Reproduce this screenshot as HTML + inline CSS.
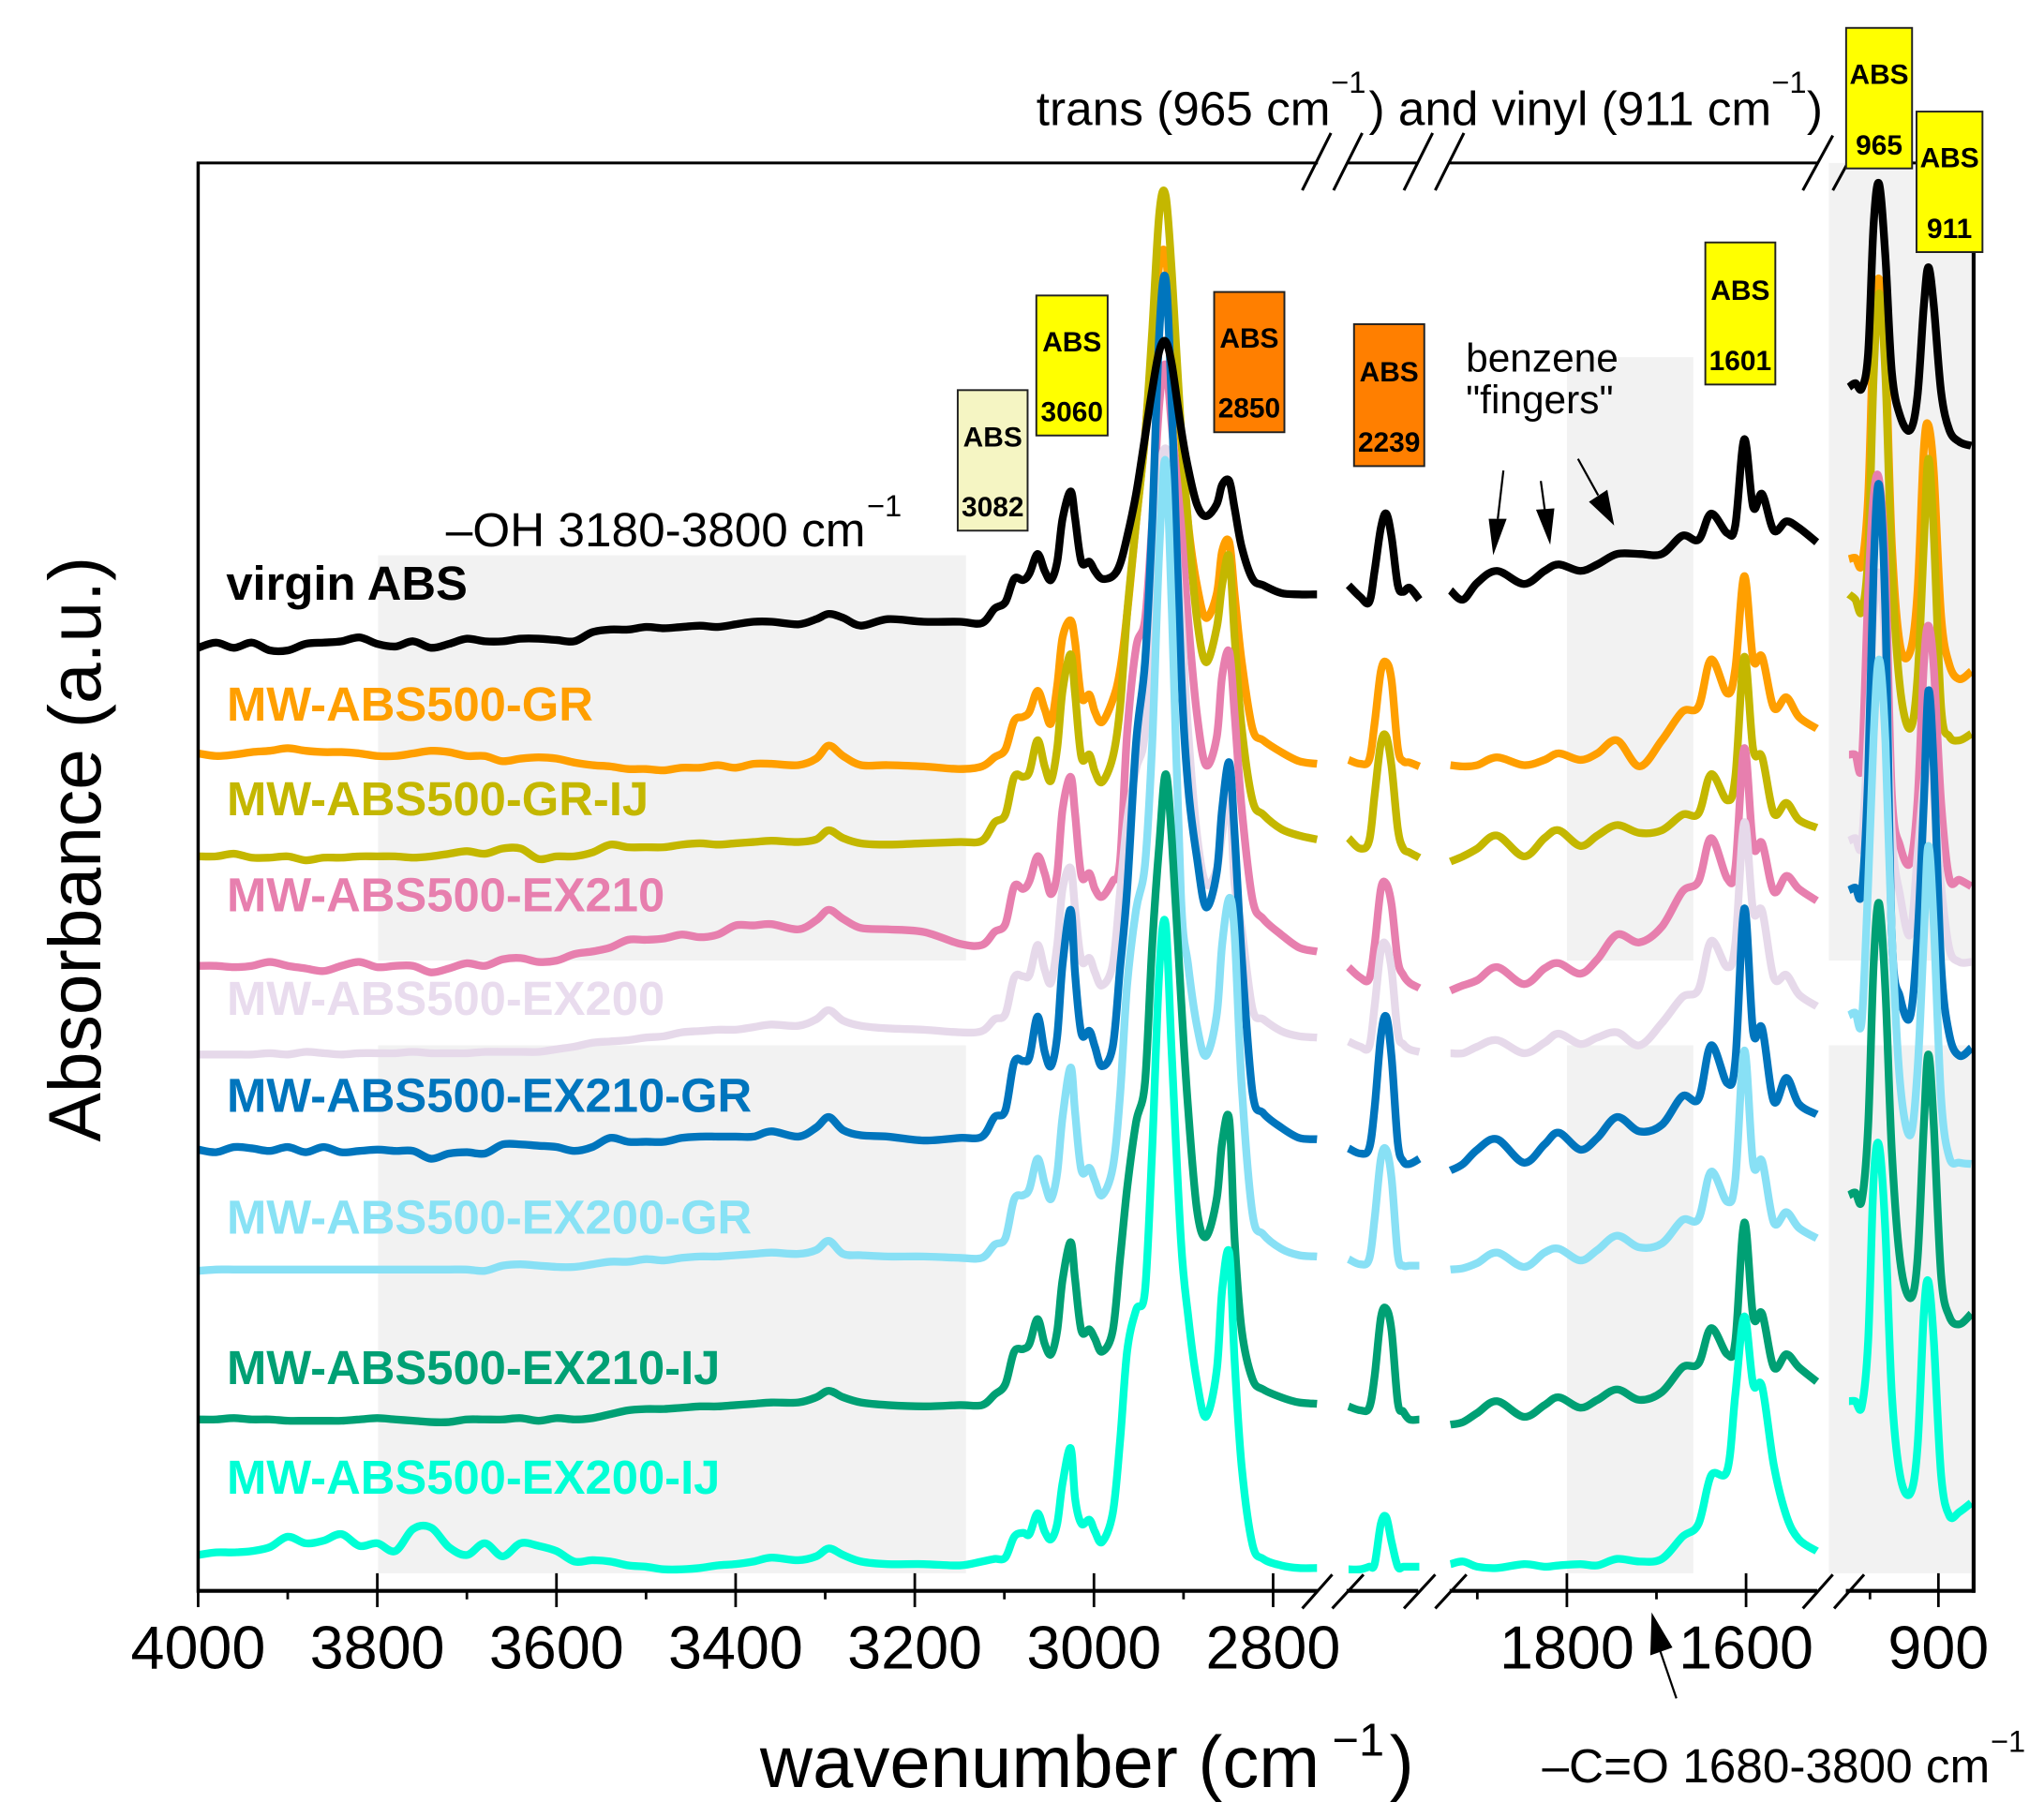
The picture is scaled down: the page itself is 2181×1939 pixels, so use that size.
<!DOCTYPE html>
<html lang="en">
<head>
<meta charset="utf-8">
<title>FTIR absorbance spectra of ABS samples</title>
<style>
html,body{margin:0;padding:0;background:#fff;}
svg{display:block;}
text{font-family:"Liberation Sans",Arial,sans-serif;fill:#000;}
.series-label{font-weight:700;font-size:36.5px;}
.box-text{font-weight:700;font-size:21.5px;text-anchor:middle;}
.note{font-size:36.9px;}
.sup{font-size:23.5px;}
</style>
</head>
<body>
<svg id="chart" xmlns="http://www.w3.org/2000/svg" width="2181" height="1939" viewBox="0 0 1568 1394">
  <rect x="0" y="0" width="1568" height="1394" fill="#ffffff"/>

  <g fill="#f2f2f2">
    <rect x="290" y="426" width="451" height="311"/>
    <rect x="290" y="802" width="451" height="405"/>
    <rect x="1202" y="274" width="97" height="463"/>
    <rect x="1202" y="802" width="97" height="405"/>
    <rect x="1403" y="125" width="109" height="612"/>
    <rect x="1403" y="802" width="109" height="405"/>
  </g>

  <g id="series-layer"></g>

  <g stroke="#000" fill="none">
    <line x1="152" y1="124" x2="152" y2="1222" stroke-width="2.5"/>
    <line x1="1514" y1="124" x2="1514" y2="1222" stroke-width="3"/>
    <path d="M151 125H1011M1033 125H1088M1112 125H1394M1416 125H1515" stroke-width="2.2"/>
    <path d="M151 1220.5H1011M1033 1220.5H1088M1112 1220.5H1394M1416 1220.5H1515" stroke-width="3"/>
    <path stroke-width="2.2" d="M999 146L1021 102M1023 146L1045 102M1077 146L1099 102M1101 146L1123 102M1383 146L1406 104M1406 146L1429 104"/>
    <path stroke-width="2.2" d="M999 1234L1022 1208M1022 1234L1046 1208M1077 1234L1101 1208M1101 1234L1125 1208M1383 1234L1406 1208M1407 1234L1430 1208"/>
  </g>
  <g id="tick-layer"></g>

  <text transform="translate(77 876) rotate(-90)" font-size="56.5">Absorbance (a.u.)</text>
  <g>
    <text x="583" y="1371" font-size="56">wavenumber (cm</text>
    <text x="1022" y="1347" font-size="35">&#8722;1</text>
    <text x="1066" y="1371" font-size="56">)</text>
  </g>

  <g>
    <text class="note" x="795" y="96">trans (965 cm</text>
    <text class="sup" x="1021" y="71">&#8722;1</text>
    <text class="note" x="1050" y="96">) and vinyl (911 cm</text>
    <text class="sup" x="1359" y="71">&#8722;1</text>
    <text font-size="36.9" x="1386" y="96">)</text>
  </g>
  <g>
    <text class="note" x="342" y="419">&#8211;OH 3180-3800 cm</text>
    <text class="sup" x="665" y="396">&#8722;1</text>
  </g>
  <g>
    <text class="note" x="1183" y="1367.5">&#8211;C=O 1680-3800 cm</text>
    <text class="sup" x="1527" y="1344">&#8722;1</text>
    <line x1="1286" y1="1303" x2="1272" y2="1262" stroke="#000" stroke-width="1.6"/>
    <polygon points="1267,1237 1283,1264 1266,1270"/>
  </g>
  <g>
    <text font-size="30.5" x="1124.5" y="285">benzene</text>
    <text font-size="30.5" x="1124.5" y="317">"fingers"</text>
    <line x1="1153.3" y1="361" x2="1149" y2="398" stroke="#000" stroke-width="1.6"/>
    <polygon points="1145.5,426 1142,398 1155.8,398"/>
    <line x1="1182" y1="369" x2="1185" y2="391" stroke="#000" stroke-width="1.6"/>
    <polygon points="1189.2,418 1178.3,391 1192.4,390"/>
    <line x1="1210.5" y1="352" x2="1226" y2="380" stroke="#000" stroke-width="1.6"/>
    <polygon points="1238.3,403.2 1218.9,385 1233,375.7"/>
  </g>

  <g>
    <text class="series-label" x="173.5" y="460" style="fill:#000000">virgin ABS</text>
    <text class="series-label" x="174" y="553" style="fill:#ff9f00">MW-ABS500-GR</text>
    <text class="series-label" x="174" y="625.5" style="fill:#c4b700">MW-ABS500-GR-IJ</text>
    <text class="series-label" x="174" y="699" style="fill:#e77fae">MW-ABS500-EX210</text>
    <text class="series-label" x="174" y="778.5" style="fill:#e9dcee">MW-ABS500-EX200</text>
    <text class="series-label" x="174" y="853" style="fill:#0075bd">MW-ABS500-EX210-GR</text>
    <text class="series-label" x="174" y="946.5" style="fill:#88e2f5">MW-ABS500-EX200-GR</text>
    <text class="series-label" x="174" y="1062" style="fill:#00a074">MW-ABS500-EX210-IJ</text>
    <text class="series-label" x="174" y="1146" style="fill:#00ffd5">MW-ABS500-EX200-IJ</text>
  </g>

  <g stroke="#222" stroke-width="1.4">
    <g><rect x="734.7" y="299.3" width="53.6" height="107.8" fill="#f5f5c3"/><text class="box-text" stroke="none" x="761.5" y="342.6">ABS</text><text class="box-text" stroke="none" x="761.5" y="396">3082</text></g>
    <g><rect x="795" y="226.7" width="54.7" height="107.4" fill="#ffff00"/><text class="box-text" stroke="none" x="822.3" y="269.5">ABS</text><text class="box-text" stroke="none" x="822.3" y="323">3060</text></g>
    <g><rect x="931.4" y="224" width="53.9" height="107.6" fill="#ff7f00"/><text class="box-text" stroke="none" x="958.3" y="266.8">ABS</text><text class="box-text" stroke="none" x="958.3" y="320.3">2850</text></g>
    <g><rect x="1038.7" y="248.7" width="53.9" height="108.9" fill="#ff7f00"/><text class="box-text" stroke="none" x="1065.6" y="292.5">ABS</text><text class="box-text" stroke="none" x="1065.6" y="346.5">2239</text></g>
    <g><rect x="1308.2" y="186" width="53.7" height="109" fill="#ffff00"/><text class="box-text" stroke="none" x="1335" y="230">ABS</text><text class="box-text" stroke="none" x="1335" y="284">1601</text></g>
    <g><rect x="1416.2" y="21.4" width="50.6" height="107.8" fill="#ffff00"/><text class="box-text" stroke="none" x="1441.5" y="64.5">ABS</text><text class="box-text" stroke="none" x="1441.5" y="118.5">965</text></g>
    <g><rect x="1470.2" y="85.6" width="50.6" height="107.8" fill="#ffff00"/><text class="box-text" stroke="none" x="1495.5" y="128.5">ABS</text><text class="box-text" stroke="none" x="1495.5" y="182.5">911</text></g>
  </g>
</svg>

<script>
// Shared wavenumber grid (cm-1). Breaks in the axis fall between the four blocks.
const wavenumbers = [
  4000,3980,3960,3940,3920,3900,3880,3860,3840,3820,3800,3780,3760,3740,3720,3700,3680,3660,3640,3620,3600,3580,3560,3540,3520,3500,3480,3460,3440,3420,3400,3380,3360,3330,3310,3296,3280,3260,3230,3190,3150,
  3125,3111,3099,3089,3079,3072,3063,3055,3048,3041,3035,3026,3021,3014,3005,2999,2991,2979,2971,2963,2953,2943,2935,2927,2920,2913,2903,2895,2885,2875,2863,2857,2849,2843,2835,2823,2811,2791,2771,2751,
  2281,2268,2258,2252,2245,2239,2233,2226,2220,2213,2202,
  1930,1916,1900,1878,1848,1825,1809,1785,1766,1744,1719,1694,1671,1653,1639,1621,1612,1602,1592,1582,1569,1555,1541,1521,
  998,991,984,977,971,965,958,951,942,931,923,916,911,905,897,888,877,864
];

// Absorbance (arbitrary units, stacked) for each sample, same order as wavenumbers.
const orangeGR = [
  642,640,641,643,644,646,644,643,643,642,640,640,642,644,643,640,640,636,638,639,638,635,633,632,630,630,629,631,631,633,631,634,634,633,638,648,640,633,633,632,630,
  632,639,645,667,670,674,690,676,665,694,731,744,727,685,687,674,666,683,705,749,819,885,955,1017,1024,966,885,819,771,746,764,797,804,764,712,661,652,643,636,634,
  637,634,637,665,705,712,698,646,636,635,632,
  633,632,633,639,633,637,642,637,642,652,632,652,674,678,714,688,707,778,714,716,677,685,670,661,
  791,792,787,839,967,1006,949,802,725,720,765,875,894,857,747,710,699,705
];
const oliveGRIJ = [
  563,563,565,562,562,563,560,562,562,563,563,563,562,563,565,567,565,569,569,561,563,563,566,572,570,570,570,572,573,572,573,574,575,574,576,583,577,573,572,573,574,
  575,589,595,624,624,628,652,632,621,646,690,718,687,639,641,628,620,639,676,749,819,885,966,1057,1070,1010,892,819,745,712,738,771,793,731,661,606,595,584,579,576,
  577,569,575,610,650,655,632,584,569,566,562,
  559,563,569,579,563,577,583,571,579,587,581,583,595,596,626,606,624,716,645,639,596,604,591,585,
  764,760,751,795,931,995,931,784,692,661,699,802,868,809,677,655,652,657
];
const pinkEX210 = [
  479,479,478,479,482,479,477,475,479,482,478,479,479,474,477,481,479,484,485,482,483,488,490,493,499,499,500,503,501,503,510,510,511,507,514,522,515,508,507,505,496,
  495,505,511,540,538,544,563,550,534,550,599,624,595,548,550,538,532,544,558,657,723,745,819,911,940,892,819,745,672,633,654,701,720,672,599,530,515,503,493,490,
  478,470,469,495,538,542,526,483,472,466,462,
  460,464,468,478,465,477,481,473,484,503,497,509,536,544,577,546,554,646,571,573,536,548,538,529,
  641,641,635,765,839,852,784,610,571,558,604,710,740,707,604,546,545,540
];
const lavenderEX200 = [
  411,411,411,411,412,411,413,412,411,412,412,412,413,412,412,412,413,413,413,413,415,417,420,421,422,424,425,428,429,430,430,432,434,433,438,445,437,433,431,430,428,
  429,438,442,470,471,472,495,476,466,495,538,554,522,483,485,474,464,480,534,590,630,660,782,855,876,850,750,660,580,542,553,580,610,542,507,446,438,429,425,424,
  421,417,417,448,491,495,476,427,419,415,413,
  412,412,417,422,412,420,427,419,424,428,418,435,455,461,498,478,496,589,521,521,470,472,457,448,
  575,577,573,660,750,780,720,580,533,503,563,620,645,610,540,492,482,482
];
const blueEX210GR = [
  338,336,340,339,337,340,336,340,336,337,338,337,337,331,335,336,335,342,342,341,340,337,340,347,344,344,344,347,348,348,348,348,352,348,355,363,353,349,348,345,347,
  348,363,368,405,406,409,440,413,402,425,480,522,472,427,429,417,402,417,476,537,650,712,819,966,1006,907,709,617,562,524,550,599,635,580,485,382,366,355,347,346,
  339,335,339,370,425,440,409,343,329,327,331,
  322,327,338,346,328,342,351,338,347,363,352,357,379,377,418,389,406,523,428,431,375,393,373,365,
  537,539,536,625,784,848,747,501,455,440,501,604,690,630,480,426,410,416
];
const skyEX200GR = [
  245,246,246,246,246,246,246,246,246,246,246,246,246,246,246,246,245,249,250,249,248,248,250,252,252,254,253,255,256,256,257,258,259,258,261,268,258,257,256,256,255,
  255,265,270,300,303,308,331,312,300,320,363,401,366,322,324,314,303,324,378,464,522,557,650,800,866,750,534,480,433,410,441,495,531,503,386,289,273,262,257,256,
  254,250,254,285,331,338,316,257,249,249,249,
  246,247,251,259,248,259,262,253,261,272,263,266,284,285,321,298,315,414,327,329,282,290,278,270,
  441,443,437,542,655,714,650,501,389,349,398,501,571,509,377,332,328,327
];
const greenEX210IJ = [
  131,131,132,131,131,130,130,130,130,131,132,131,130,129,129,131,131,131,132,130,132,131,132,135,138,139,139,140,141,141,142,143,144,144,148,153,148,144,142,141,142,
  142,150,158,183,185,189,208,189,181,199,238,267,238,199,200,193,183,199,253,308,359,390,495,573,626,575,456,370,292,271,300,343,361,269,199,162,154,148,144,143,
  141,138,140,164,209,216,199,144,137,131,131,
  127,129,136,145,133,142,148,140,146,154,146,152,171,174,201,181,191,282,210,212,171,181,171,160,
  303,305,299,356,480,527,459,336,253,224,253,356,411,356,241,210,204,212
];
const turquoiseEX200IJ = [
  27,29,29,30,33,41,36,38,43,34,36,30,47,48,33,27,36,26,36,34,30,22,23,22,19,18,16,16,17,19,20,22,25,23,26,32,27,22,20,20,19,
  22,24,25,41,44,43,59,45,39,51,82,109,70,51,54,45,37,59,113,183,215,230,339,476,511,409,269,211,160,133,168,230,259,176,94,35,24,19,17,17,
  16,16,18,20,51,56,37,18,18,18,18,
  20,22,18,17,20,18,19,20,19,24,22,24,41,51,88,92,150,210,158,156,96,57,39,30,
  145,145,141,191,315,341,274,150,88,74,109,212,237,191,88,57,60,67
];
const blackVirgin = [
  723,727,723,727,721,721,726,727,728,731,726,724,728,723,726,730,728,728,730,730,729,728,735,737,737,739,738,739,740,739,741,743,743,741,745,749,746,740,745,743,743,
  742,753,758,776,775,780,795,782,775,789,822,843,822,789,789,782,776,778,787,808,841,885,921,951,958,940,892,861,833,824,833,848,851,830,800,776,771,765,764,764,
  771,762,758,782,815,826,808,771,766,769,760,
  767,760,773,782,772,782,787,782,787,795,795,795,809,806,826,811,817,883,831,841,813,820,815,804,
  923,926,922,949,1048,1079,1022,934,901,890,916,985,1015,985,919,890,881,878
];

// X-axis tick values and printed labels.
const majorTicks = [4000,3800,3600,3400,3200,3000,2800,1800,1600,900];
const minorTicks = [3900,3700,3500,3300,3100,2900,1900,1700,975];
const tickLabels = ["4000","3800","3600","3400","3200","3000","2800","1800","1600","900"];

const seriesList = [
  {name:'series-gr', values:orangeGR, color:'#ff9f00'},
  {name:'series-gr-ij', values:oliveGRIJ, color:'#c4b700'},
  {name:'series-ex210', values:pinkEX210, color:'#e77fae'},
  {name:'series-ex200', values:lavenderEX200, color:'#e6d9ea'},
  {name:'series-ex210-gr', values:blueEX210GR, color:'#0075bd'},
  {name:'series-ex200-gr', values:skyEX200GR, color:'#88e0f5'},
  {name:'series-ex210-ij', values:greenEX210IJ, color:'#00a074'},
  {name:'series-ex200-ij', values:turquoiseEX200IJ, color:'#00ffd5'},
  {name:'series-virgin-abs', values:blackVirgin, color:'#000000'}
];

const SVG_NS = 'http://www.w3.org/2000/svg';

// Broken x axis: returns which panel a wavenumber lies in.
function panelOf(w) {
  if (w > 2500) return 0;
  if (w > 2000) return 1;
  if (w > 1200) return 2;
  return 3;
}
function xScale(w) {
  const panel = panelOf(w);
  if (panel === 0) return 152 + (4000 - w) * 0.6872;
  if (panel === 1) return 1063.4 + (2239 - w) * 0.6872;
  if (panel === 2) return 1202 + (1800 - w) * 0.6872;
  return 1487 + (900 - w) * 0.7;
}
function yScale(a) {
  return 1220 - a;
}

function smoothPath(pts) {
  let d = 'M' + pts[0][0].toFixed(1) + ' ' + pts[0][1].toFixed(1);
  for (let i = 0; i < pts.length - 1; i++) {
    const p0 = pts[Math.max(i - 1, 0)];
    const p1 = pts[i];
    const p2 = pts[i + 1];
    const p3 = pts[Math.min(i + 2, pts.length - 1)];
    const c1x = p1[0] + (p2[0] - p0[0]) / 6;
    const c1y = p1[1] + (p2[1] - p0[1]) / 6;
    const c2x = p2[0] - (p3[0] - p1[0]) / 6;
    const c2y = p2[1] - (p3[1] - p1[1]) / 6;
    d += 'C' + c1x.toFixed(1) + ' ' + c1y.toFixed(1) + ' ' + c2x.toFixed(1) + ' ' + c2y.toFixed(1) + ' ' + p2[0].toFixed(1) + ' ' + p2[1].toFixed(1);
  }
  return d;
}

function drawSeries() {
  const layer = document.getElementById('series-layer');
  seriesList.forEach(function (s) {
    const group = document.createElementNS(SVG_NS, 'g');
    
    
    const panels = [[], [], [], []];
    wavenumbers.forEach(function (w, i) {
      panels[panelOf(w)].push([xScale(w), yScale(s.values[i])]);
    });
    panels.forEach(function (pts) {
      const path = document.createElementNS(SVG_NS, 'path');
      
      
      path.setAttribute('d', smoothPath(pts));
      path.setAttribute('fill', 'none');
      path.setAttribute('stroke', s.color);
      path.setAttribute('stroke-width', '6');
      path.setAttribute('stroke-linejoin', 'round');
      group.appendChild(path);
    });
    layer.appendChild(group);
  });
}

function drawTicks() {
  const layer = document.getElementById('tick-layer');
  majorTicks.forEach(function (w, i) {
    const tick = document.createElementNS(SVG_NS, 'line');
    
    
    tick.setAttribute('x1', xScale(w));
    tick.setAttribute('x2', xScale(w));
    tick.setAttribute('y1', 1207);
    tick.setAttribute('y2', 1233);
    tick.setAttribute('stroke', '#000');
    tick.setAttribute('stroke-width', '2');
    layer.appendChild(tick);
    const label = document.createElementNS(SVG_NS, 'text');
    
    
    label.setAttribute('x', xScale(w));
    label.setAttribute('y', 1280);
    label.setAttribute('text-anchor', 'middle');
    label.setAttribute('font-size', '46.5');
    label.textContent = tickLabels[i];
    layer.appendChild(label);
  });
  minorTicks.forEach(function (w) {
    const tick = document.createElementNS(SVG_NS, 'line');
    
    
    tick.setAttribute('x1', xScale(w));
    tick.setAttribute('x2', xScale(w));
    tick.setAttribute('y1', 1220);
    tick.setAttribute('y2', 1227);
    tick.setAttribute('stroke', '#000');
    tick.setAttribute('stroke-width', '2');
    layer.appendChild(tick);
  });
}

drawSeries();
drawTicks();
</script>
</body>
</html>
